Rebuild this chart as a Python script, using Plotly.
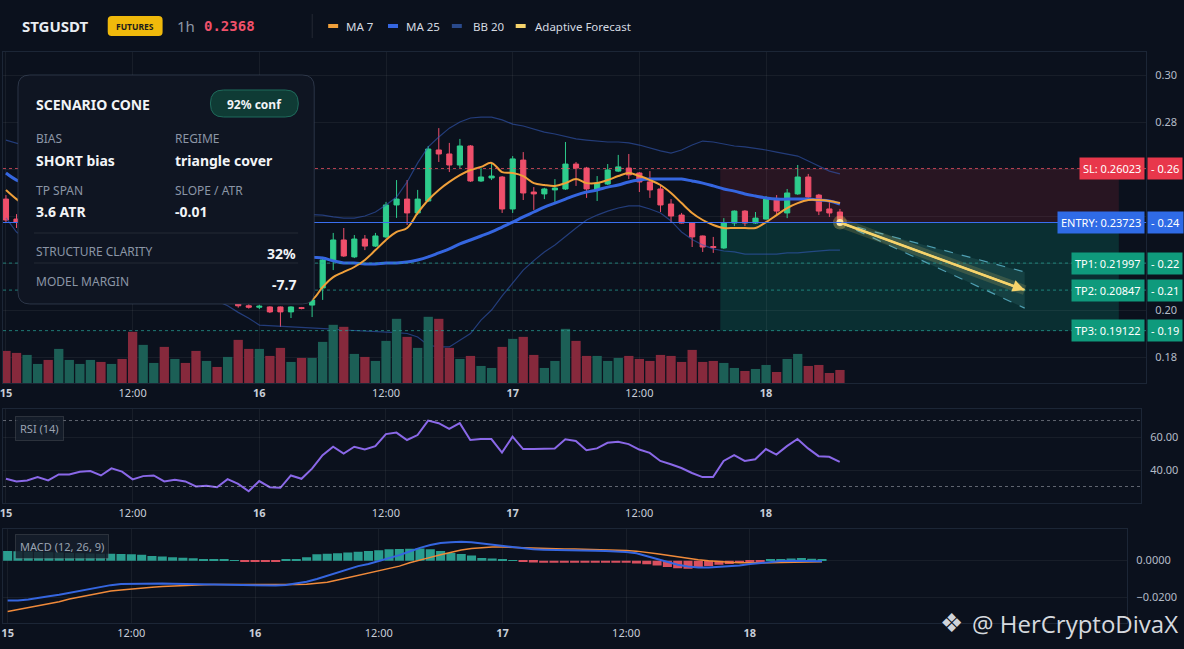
import pandas as pd
import plotly.graph_objects as go

W, H = 1184, 649
BG = "#0b111d"
GRID = "rgba(255,255,255,0.055)"
FRAME = "#1c2636"
FONT = "Noto Sans"

# ---- data (1h candles) ----
start = pd.Timestamp("2025-01-15 00:00")
times = pd.date_range(start, periods=80, freq="h")

opens = [.2472, .2387, .2374, .2385, .2392, .2370, .2398, .2404, .2412, .2418,
         .2395, .2420, .2402, .2330, .2345, .2352, .2300, .2308, .2280, .2230,
         .2238, .2195, .2210, .2018, .2012, .2013, .2013, .1992, .2010, .2021,
         .2094, .2213, .2298, .2226, .2302, .2272, .2311, .2447, .2472, .2413,
         .2464, .2681, .2664, .2617, .2698, .2549, .2562, .2566, .2430, .2638,
         .2502, .2494, .2511, .2515, .2621, .2604, .2511, .2536, .2591, .2604,
         .2583, .2545, .2515, .2451, .2404, .2370, .2315, .2270, .2264, .2370,
         .2421, .2370, .2387, .2472, .2413, .2494, .2566, .2489, .2430, .2417]
highs = [.2489, .2408, .2398, .2405, .2399, .2410, .2416, .2425, .2430, .2422,
         .2432, .2426, .2408, .2358, .2362, .2356, .2318, .2312, .2285, .2248,
         .2242, .2224, .2215, .2024, .2022, .2016, .2015, .2016, .2013, .2047,
         .2226, .2328, .2349, .2319, .2319, .2328, .2460, .2553, .2553, .2511,
         .2698, .2774, .2711, .2728, .2702, .2604, .2630, .2570, .2655, .2672,
         .2523, .2520, .2557, .2715, .2630, .2609, .2570, .2621, .2660, .2664,
         .2587, .2591, .2528, .2472, .2413, .2372, .2317, .2311, .2391, .2424,
         .2425, .2417, .2485, .2489, .2515, .2617, .2579, .2494, .2464, .2430]
lows = [.2374, .2349, .2360, .2376, .2362, .2365, .2388, .2396, .2405, .2388,
        .2390, .2396, .2318, .2320, .2338, .2290, .2292, .2270, .2222, .2225,
        .2188, .2185, .2010, .2006, .2004, .1987, .1928, .1966, .2003, .1970,
        .2043, .2170, .2226, .2221, .2255, .2268, .2306, .2392, .2362, .2404,
        .2460, .2630, .2587, .2604, .2545, .2545, .2553, .2413, .2413, .2468,
        .2426, .2472, .2460, .2511, .2528, .2477, .2464, .2532, .2587, .2557,
        .2502, .2477, .2417, .2370, .2368, .2268, .2247, .2243, .2260, .2357,
        .2357, .2366, .2385, .2404, .2391, .2490, .2477, .2404, .2396, .2368]
closes = [.2383, .2374, .2385, .2392, .2370, .2398, .2404, .2412, .2418, .2395,
          .2420, .2402, .2330, .2345, .2352, .2300, .2308, .2280, .2230, .2238,
          .2195, .2210, .2018, .2012, .2016, .1992, .1992, .2013, .2007, .2043,
          .2213, .2298, .2230, .2302, .2272, .2315, .2447, .2472, .2413, .2472,
          .2685, .2664, .2617, .2698, .2549, .2566, .2570, .2430, .2643, .2498,
          .2494, .2515, .2519, .2621, .2604, .2515, .2540, .2596, .2609, .2575,
          .2545, .2511, .2447, .2400, .2370, .2311, .2268, .2266, .2370, .2421,
          .2370, .2391, .2472, .2421, .2498, .2566, .2481, .2421, .2413, .2372]
volume_k = [480, 450, 420, 285, 345, 510, 345, 285, 345, 315,
            285, 360, 765, 570, 300, 540, 360, 300, 480, 330,
            240, 390, 645, 510, 510, 405, 525, 315, 375, 375,
            615, 870, 840, 435, 390, 330, 630, 960, 690, 525,
            990, 960, 525, 360, 405, 255, 225, 540, 660, 690,
            420, 225, 330, 810, 630, 405, 405, 330, 375, 405,
            360, 330, 420, 405, 315, 495, 315, 330, 300, 225,
            180, 210, 270, 165, 360, 435, 255, 270, 150, 195]
ma7 = [.2511, .2472, .2440, .2420, .2400, .2390, .2388, .2392, .2398, .2400,
       .2405, .2407, .2397, .2387, .2377, .2362, .2347, .2330, .2305, .2282,
       .2260, .2240, .2205, .2170, .2140, .2112, .2085, .2068, .2055, .2045,
       .2098, .2140, .2162, .2183, .2213, .2255, .2298, .2332, .2349, .2413,
       .2468, .2511, .2545, .2574, .2596, .2609, .2626, .2587, .2583, .2570,
       .2540, .2532, .2528, .2540, .2557, .2540, .2540, .2553, .2570, .2583,
       .2570, .2553, .2532, .2498, .2455, .2413, .2383, .2362, .2349, .2349,
       .2349, .2349, .2374, .2404, .2434, .2455, .2468, .2468, .2464, .2455]
ma25 = [.2583, .2553, .2538, .2525, .2513, .2502, .2492, .2483, .2474, .2465,
        .2456, .2447, .2437, .2426, .2415, .2403, .2391, .2379, .2366, .2353,
        .2340, .2327, .2312, .2297, .2282, .2268, .2255, .2243, .2233, .2225,
        .2221, .2209, .2200, .2200, .2196, .2196, .2200, .2200, .2204, .2213,
        .2226, .2243, .2260, .2281, .2298, .2315, .2332, .2353, .2374, .2396,
        .2417, .2438, .2455, .2472, .2489, .2502, .2511, .2523, .2532, .2545,
        .2553, .2557, .2557, .2557, .2557, .2549, .2540, .2528, .2515, .2506,
        .2494, .2485, .2477, .2472, .2472, .2472, .2472, .2468, .2464, .2451]
bb_upper = [.2723, .2711, .2698, .2684, .2670, .2656, .2642, .2628, .2614, .2600,
            .2587, .2574, .2561, .2548, .2535, .2522, .2509, .2497, .2485, .2474,
            .2463, .2453, .2444, .2435, .2427, .2420, .2414, .2410, .2407, .2405,
            .2404, .2396, .2391, .2391, .2400, .2417, .2447, .2481, .2545, .2626,
            .2694, .2736, .2774, .2800, .2817, .2821, .2821, .2809, .2791, .2783,
            .2770, .2757, .2749, .2740, .2728, .2723, .2719, .2715, .2715, .2711,
            .2702, .2689, .2677, .2668, .2681, .2702, .2719, .2715, .2706, .2698,
            .2694, .2689, .2681, .2672, .2664, .2655, .2634, .2613, .2591, .2579]
bb_lower = [.2392, .2332, .2300, .2275, .2255, .2240, .2228, .2218, .2210, .2203,
            .2196, .2188, .2175, .2162, .2148, .2132, .2115, .2098, .2078, .2058,
            .2038, .2018, .1990, .1965, .1936, .1934, .1932, .1930, .1928, .1926,
            .1924, .1919, .1915, .1913, .1911, .1910, .1908, .1904, .1900, .1885,
            .1850, .1843, .1843, .1870, .1900, .1957, .2000, .2060, .2115, .2170,
            .2210, .2247, .2277, .2311, .2349, .2383, .2404, .2421, .2434, .2443,
            .2443, .2430, .2413, .2379, .2332, .2300, .2277, .2260, .2251, .2247,
            .2238, .2238, .2238, .2238, .2243, .2243, .2247, .2251, .2255, .2255]
rsi = [34.7, 33.1, 33.7, 35.7, 33.7, 37.3, 37.3, 39.0, 39.4, 36.7,
       41.0, 39.0, 34.3, 36.3, 36.7, 33.1, 34.1, 33.1, 30.0, 30.4,
       29.6, 34.5, 31.6, 27.1, 33.3, 29.6, 29.2, 36.7, 34.7, 40.8,
       49.0, 54.1, 50.0, 54.1, 52.4, 54.5, 61.8, 62.7, 58.2, 61.2,
       70.0, 68.4, 64.9, 68.4, 58.2, 58.8, 58.8, 50.6, 60.2, 52.7,
       52.7, 53.1, 53.1, 58.6, 57.6, 52.0, 53.1, 56.5, 57.1, 55.7,
       52.4, 50.4, 45.5, 43.5, 41.2, 38.2, 35.7, 35.7, 45.5, 49.0,
       45.5, 46.5, 52.7, 49.4, 54.5, 58.8, 53.1, 48.4, 48.0, 44.9]
macd = [-.0218, -.0218, -.0212, -.0202, -.0195, -.0187, -.0176, -.0166, -.0155, -.0145,
        -.0134, -.0128, -.0127, -.0125, -.0124, -.0125, -.0127, -.0128, -.0129, -.0129,
        -.0130, -.0132, -.0134, -.0136, -.0137, -.0138, -.0136, -.0133, -.0126, -.0115,
        -.0100, -.0082, -.0065, -.0048, -.0030, -.0018, -.0002, .0012, .0030, .0050,
        .0070, .0085, .0097, .0101, .0103, .0100, .0094, .0087, .0081, .0074,
        .0067, .0062, .0060, .0058, .0057, .0056, .0055, .0054, .0053, .0051,
        .0047, .0040, .0025, .0010, -.0008, -.0022, -.0032, -.0038, -.0037, -.0034,
        -.0031, -.0026, -.0019, -.0012, -.0006, -.0002, .0000, -.0001, -.0003, -.0004]
signal = [-.0278, -.0268, -.0258, -.0244, -.0234, -.0225, -.0210, -.0198, -.0186, -.0176,
          -.0166, -.0160, -.0154, -.0150, -.0145, -.0141, -.0138, -.0135, -.0134, -.0132,
          -.0131, -.0130, -.0130, -.0130, -.0131, -.0132, -.0133, -.0133, -.0131, -.0129,
          -.0125, -.0118, -.0106, -.0094, -.0080, -.0068, -.0055, -.0043, -.0030, -.0012,
          .0005, .0018, .0032, .0045, .0058, .0066, .0071, .0074, .0074, .0073,
          .0072, .0070, .0068, .0066, .0064, .0063, .0062, .0061, .0060, .0059,
          .0056, .0052, .0046, .0038, .0029, .0020, .0012, .0005, -.0001, -.0006,
          -.0009, -.0011, -.0012, -.0012, -.0011, -.0010, -.0009, -.0008, -.0007, -.0006]
hist = [.0053, .0052, .0050, .0048, .0046, .0044, .0042, .0040, .0039, .0038,
        .0037, .0036, .0035, .0032, .0025, .0022, .0018, .0016, .0013, .0008,
        .0005, .0004, .0003, -.0006, -.0007, -.0008, -.0005, .0004, .0009, .0018,
        .0035, .0037, .0040, .0045, .0048, .0053, .0057, .0062, .0063, .0065,
        .0066, .0062, .0053, .0042, .0036, .0028, .0014, .0012, .0008, .0002,
        -.0008, -.0010, -.0011, -.0011, -.0012, -.0012, -.0012, -.0012, -.0012, -.0012,
        -.0012, -.0015, -.0020, -.0027, -.0035, -.0042, -.0044, -.0036, -.0030, -.0022,
        -.0018, -.0012, -.0010, -.0006, .0005, .0009, .0012, .0014, .0010, .0005]

# trade levels and forecast
sl, entry = 0.26023, 0.23723
tp_levels = [0.21997, 0.20847, 0.19122]
zone_start, zone_end = "2025-01-17 19:40", "2025-01-19 09:25"
fc_end = "2025-01-19 00:30"
fc_target, fc_upper, fc_lower = 0.20847, 0.2162, 0.2008

price_ticks = [0.18, 0.20, 0.22, 0.24, 0.26, 0.28, 0.30]
tick_times = pd.date_range(start, periods=7, freq="12h")
tick_labels = ["15", "12:00", "16", "12:00", "17", "12:00", "18"]
legend_labels = ["MA 7", "MA 25", "BB 20", "Adaptive Forecast"]

C_UP, C_DN = "#2ecc8c", "#ef4f6b"
C_MA7, C_MA25, C_BB, C_FC = "#f0a03a", "#3566e0", "rgba(52,90,185,0.6)", "#f6d36b"
C_TP = "#0f9a7c"


def px(x):
    return x / W


def py(y):
    return 1 - y / H


def at(hours):
    return start + pd.Timedelta(hours=hours)


def rounded(x0, y0, x1, y1, r):
    pts = [("M", x0 + r, y0), ("L", x1 - r, y0), ("Q", x1, y0, x1, y0 + r),
           ("L", x1, y1 - r), ("Q", x1, y1, x1 - r, y1), ("L", x0 + r, y1),
           ("Q", x0, y1, x0, y1 - r), ("L", x0, y0 + r), ("Q", x0, y0, x0 + r, y0)]
    out = ""
    for p in pts:
        coords = p[1:]
        pairs = [f"{px(coords[i]):.5f},{py(coords[i + 1]):.5f}" for i in range(0, len(coords), 2)]
        out += p[0] + " ".join(pairs) + " "
    return out + "Z"


def note(x, y, text, size=12, color="#f2f4f7", anchor="left", bold=False, family=FONT, **kw):
    return dict(xref="paper", yref="paper", x=px(x), y=py(y), text=text, showarrow=False,
                xanchor=anchor, yanchor="middle",
                font=dict(family=family, size=size, color=color, weight="bold" if bold else "normal"), **kw)


up = [c >= o for o, c in zip(opens, closes)]
fig = go.Figure()

# volume (overlay on price panel)
fig.add_trace(go.Bar(x=times, y=volume_k, xaxis="x", yaxis="y2",
                     marker=dict(color=["#1c5f56" if u else "#86293c" for u in up], line_width=0)))
fig.add_trace(go.Candlestick(x=times, open=opens, high=highs, low=lows, close=closes,
                             xaxis="x", yaxis="y", whiskerwidth=0,
                             increasing=dict(line=dict(color=C_UP, width=1), fillcolor=C_UP),
                             decreasing=dict(line=dict(color=C_DN, width=1), fillcolor=C_DN)))
for band in (bb_upper, bb_lower):
    fig.add_trace(go.Scatter(x=times, y=band, mode="lines", line=dict(color=C_BB, width=1.2),
                             xaxis="x", yaxis="y"))
fig.add_trace(go.Scatter(x=times, y=ma25, mode="lines", line=dict(color=C_MA25, width=3, shape="spline"),
                         xaxis="x", yaxis="y"))
fig.add_trace(go.Scatter(x=times, y=ma7, mode="lines", line=dict(color=C_MA7, width=2, shape="spline"),
                         xaxis="x", yaxis="y"))

# forecast cone
t_last = times[-1]
fig.add_trace(go.Scatter(x=[t_last, fc_end, fc_end, t_last], y=[entry, fc_upper, fc_lower, entry],
                         mode="lines", fill="toself", fillcolor="rgba(110,190,190,0.12)",
                         line=dict(width=0), xaxis="x", yaxis="y"))
for edge in (fc_upper, fc_lower):
    fig.add_trace(go.Scatter(x=[t_last, fc_end], y=[entry, edge], mode="lines",
                             line=dict(color="#4f9fb2", width=1.2, dash="dash"), xaxis="x", yaxis="y"))
fig.add_trace(go.Scatter(x=[t_last, fc_end], y=[entry, fc_target], mode="lines",
                         line=dict(color="rgba(246,211,107,0.16)", width=10), xaxis="x", yaxis="y"))
fig.add_trace(go.Scatter(x=[t_last, fc_end], y=[entry, fc_target], mode="lines",
                         line=dict(color=C_FC, width=2.5), xaxis="x", yaxis="y"))
fig.add_trace(go.Scatter(x=[t_last], y=[entry], mode="markers",
                         marker=dict(size=14, color="rgba(246,211,107,0.3)"), xaxis="x", yaxis="y"))
fig.add_trace(go.Scatter(x=[t_last], y=[entry], mode="markers",
                         marker=dict(size=7, color="#fde7a4"), xaxis="x", yaxis="y"))

# RSI
fig.add_trace(go.Scatter(x=times, y=rsi, mode="lines", line=dict(color="#8a68e8", width=2),
                         xaxis="x2", yaxis="y3"))

# MACD
fig.add_trace(go.Bar(x=times, y=hist, xaxis="x3", yaxis="y4",
                     marker=dict(color=["#2a9d8f" if v >= 0 else "#d9505f" for v in hist], line_width=0)))
fig.add_trace(go.Scatter(x=times, y=signal, mode="lines", line=dict(color="#f08a3a", width=1.5),
                         xaxis="x3", yaxis="y4"))
fig.add_trace(go.Scatter(x=times, y=macd, mode="lines", line=dict(color="#3566e0", width=2),
                         xaxis="x3", yaxis="y4"))

# price labels on the right hide the axis ticks they sit on
levels = [("SL", sl, "#e8374b"), ("ENTRY", entry, "#2f6be6")] + \
         [(f"TP{i + 1}", v, C_TP) for i, v in enumerate(tp_levels)]
price_text = ["" if any(abs(v - lv) < 0.006 for _, lv, _ in levels) else f"{v:.2f}" for v in price_ticks]

xcommon = dict(type="date", tickvals=tick_times,
               ticktext=[f"<b>{t}</b>" if ":" not in t else t for t in tick_labels],
               showgrid=True, gridcolor=GRID, showline=True, linecolor=FRAME, mirror=True,
               zeroline=False, tickfont=dict(family=FONT, size=11, color="#c8ced8"),
               ticklabeloverflow="allow", rangeslider=dict(visible=False))
ycommon = dict(side="right", showgrid=True, gridcolor=GRID, showline=True, linecolor=FRAME,
               mirror=True, zeroline=False, ticklabelstandoff=6,
               tickfont=dict(family=FONT, size=11, color="#b4bcc8"))

fig.update_layout(
    width=W, height=H, margin=dict(l=0, r=0, t=0, b=0),
    paper_bgcolor=BG, plot_bgcolor=BG, showlegend=False, bargap=0.12,
    xaxis=dict(xcommon, domain=[0, px(1146)], anchor="y", range=[at(-0.28), at(108)]),
    yaxis=dict(ycommon, domain=[py(383), py(52)], range=[0.16894, 0.30979],
               tickvals=price_ticks, ticktext=price_text),
    yaxis2=dict(overlaying="y", range=[0, max(volume_k) * 5.0], visible=False),
    xaxis2=dict(xcommon, domain=[0, px(1141)], anchor="y3", range=[at(-0.28), at(107.56)]),
    yaxis3=dict(ycommon, domain=[py(503), py(409)], range=[20, 77], tickvals=[40, 60],
                tickformat=".2f", anchor="x2"),
    xaxis3=dict(xcommon, domain=[0, px(1127)], anchor="y4", range=[at(-0.45), at(108.6)]),
    yaxis4=dict(ycommon, domain=[py(623), py(529)], range=[-0.0341, 0.0173],
                tickvals=[-0.02, 0], tickformat=".4f", anchor="x3"),
)

shapes = []
# trade zones
shapes.append(dict(type="rect", xref="x", yref="y", x0=zone_start, x1=zone_end, y0=entry, y1=sl,
                   fillcolor="rgba(242,54,69,0.13)", line_width=0, layer="below"))
shapes.append(dict(type="rect", xref="x", yref="y", x0=zone_start, x1=zone_end, y0=tp_levels[-1], y1=entry,
                   fillcolor="rgba(8,153,129,0.22)", line_width=0, layer="below"))
# level lines
shapes.append(dict(type="line", xref="x domain", yref="y", x0=0, x1=1, y0=sl, y1=sl,
                   line=dict(color="rgba(239,83,100,0.75)", width=1, dash="dot")))
shapes.append(dict(type="line", xref="x domain", yref="y", x0=0, x1=1, y0=entry, y1=entry,
                   line=dict(color="#3a6ff0", width=1.2)))
for tp in tp_levels:
    shapes.append(dict(type="line", xref="x domain", yref="y", x0=0, x1=1, y0=tp, y1=tp,
                       line=dict(color="rgba(38,166,154,0.7)", width=1, dash="dot")))
for lvl in (70, 30):
    shapes.append(dict(type="line", xref="x2 domain", yref="y3", x0=0, x1=1, y0=lvl, y1=lvl,
                       line=dict(color="rgba(200,205,215,0.45)", width=1, dash="dot")))
# info card
shapes.append(dict(type="path", xref="paper", yref="paper", path=rounded(15, 75, 312, 304, 12),
                   fillcolor="#0f1522", line=dict(color="rgba(70,82,104,0.55)", width=1)))
shapes.append(dict(type="path", xref="paper", yref="paper", path=rounded(208, 90, 296, 117, 13),
                   fillcolor="#0f3b35", line=dict(color="#1f6b5c", width=1)))
for yy in (233, 263):
    shapes.append(dict(type="line", xref="paper", yref="paper", x0=px(31), x1=px(296), y0=py(yy), y1=py(yy),
                       line=dict(color="rgba(255,255,255,0.09)", width=1)))
# header
shapes.append(dict(type="path", xref="paper", yref="paper", path=rounded(105, 16, 160, 36, 4),
                   fillcolor="#f0b90b", line_width=0))
shapes.append(dict(type="line", xref="paper", yref="paper", x0=px(310), x1=px(310), y0=py(14), y1=py(38),
                   line=dict(color="rgba(255,255,255,0.1)", width=1)))
legend_icon_x = [326, 386, 450, 514]
legend_text_x = [342, 402, 469, 531]
legend_colors = [C_MA7, C_MA25, "#2a4a8c", C_FC]
for ix, col in zip(legend_icon_x, legend_colors):
    shapes.append(dict(type="rect", xref="paper", yref="paper", x0=px(ix), x1=px(ix + 10),
                       y0=py(28), y1=py(24), fillcolor=col, line_width=0))
fig.update_layout(shapes=shapes)

ann = [
    note(17, 26, "STGUSDT", size=15, bold=True, color="#e9edf2"),
    note(132.5, 26, "FUTURES", size=8.5, bold=True, color="#1b1b1b", anchor="center"),
    note(172, 26, "1h", size=15, color="#8d96a5"),
    note(200, 26, "0.2368", size=14, bold=True, color="#f0506a", family="DejaVu Sans Mono"),
]
for tx, lab in zip(legend_text_x, legend_labels):
    ann.append(note(tx, 26, lab, size=11.5, color="#d5dae1"))

# card text
ann += [
    note(31, 104, "SCENARIO CONE", size=14, bold=True),
    note(252, 104, "92% conf", size=12, bold=True, anchor="center"),
    note(31, 138, "BIAS", size=12, color="#8b95a6"),
    note(170, 138, "REGIME", size=12, color="#8b95a6"),
    note(31, 160, "SHORT bias", size=14, bold=True),
    note(170, 160, "triangle cover", size=14, bold=True),
    note(31, 190, "TP SPAN", size=12, color="#8b95a6"),
    note(170, 190, "SLOPE / ATR", size=12, color="#8b95a6"),
    note(31, 212, "3.6 ATR", size=14, bold=True),
    note(170, 212, "-0.01", size=14, bold=True),
    note(31, 251, "STRUCTURE CLARITY", size=12, color="#8b95a6"),
    note(296, 253, "32%", size=14, bold=True, anchor="right"),
    note(31, 281, "MODEL MARGIN", size=12, color="#8b95a6"),
    note(296, 284, "-7.7", size=14, bold=True, anchor="right"),
]

# price labels
for name, val, col in levels:
    for xx, anchor, text in ((1145, "right", f"{name}: {val:.5f}"), (1147, "left", f"- {val:.2f}")):
        ann.append(dict(xref="paper", yref="y", x=px(xx), y=val, text=text, showarrow=False,
                        xanchor=anchor, yanchor="middle", bgcolor=col, borderpad=3,
                        font=dict(family=FONT, size=11, color="#ffffff")))

# forecast arrow head
ann.append(dict(xref="x", yref="y", axref="x", ayref="y", x=fc_end, y=fc_target, ax=t_last, ay=entry,
                text="", showarrow=True, arrowhead=2, arrowsize=1.2, arrowwidth=2, arrowcolor=C_FC))

# panel titles
for yy, title in ((428, "RSI (14)"), (546, "MACD (12, 26, 9)")):
    ann.append(note(12, yy, title, size=11, color="#9aa3b1", bgcolor="rgba(22,30,44,0.85)",
                    bordercolor="rgba(255,255,255,0.12)", borderwidth=1, borderpad=4))

# watermark
ann.append(note(951, 623, "❖", size=26, color="#d0d4da", anchor="center", family="DejaVu Sans"))
ann.append(note(969, 623, "@ HerCryptoDivaX", size=24, color="#d6d9de", family="Open Sans"))
fig.update_layout(annotations=ann)

fig.write_html("out.html", config={"displayModeBar": False},
               post_script="document.body.style.margin='0';")
